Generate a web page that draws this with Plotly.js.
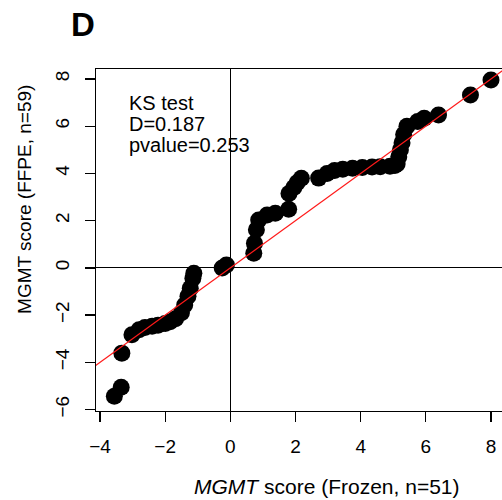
<!DOCTYPE html>
<html>
<head>
<meta charset="utf-8">
<script src="https://cdn.plot.ly/plotly-3.0.1.min.js"></script>
<style>html,body{margin:0;padding:0;background:#fff;overflow:hidden;}#chart{width:502px;height:500px;}</style>
</head>
<body>
<div id="chart"></div>
<script>
// Sorted quantiles (QQ plot): Frozen (x) vs FFPE (y)
var frozenScore = [-3.56, -3.35, -3.33, -3.02, -2.80, -2.62, -2.40, -2.22, -2.00, -1.85,
  -1.68, -1.50, -1.40, -1.30, -1.23, -1.15, -1.12, -0.25, -0.12, 0.72,
  0.74, 0.80, 0.87, 1.13, 1.38, 1.79, 1.80, 1.95, 2.05, 2.18,
  2.71, 2.97, 3.20, 3.45, 3.75, 4.05, 4.35, 4.60, 4.90, 5.05,
  5.12, 5.17, 5.22, 5.27, 5.32, 5.42, 5.75, 5.95, 6.39, 7.37, 8.00];
var ffpeScore = [-5.44, -5.05, -3.61, -2.83, -2.62, -2.52, -2.47, -2.43, -2.36, -2.28,
  -2.15, -1.90, -1.57, -1.20, -0.86, -0.44, -0.23, -0.01, 0.12, 0.62,
  1.04, 1.61, 2.03, 2.24, 2.31, 2.48, 3.15, 3.40, 3.60, 3.79,
  3.80, 4.00, 4.12, 4.18, 4.22, 4.25, 4.27, 4.28, 4.30, 4.33,
  4.40, 4.70, 5.00, 5.30, 5.65, 6.00, 6.20, 6.33, 6.47, 7.32, 7.95];
// identity reference line y = x
var refLine = [-10, 10];
var xTicks = [-4, -2, 0, 2, 4, 6, 8];
var yTicks = [-6, -4, -2, 0, 2, 4, 6, 8];
var ksLines = ["KS test", "D=0.187", "pvalue=0.253"];
var xTitle = "<i>MGMT</i> score (Frozen, n=51)";
var yTitle = "MGMT score (FFPE, n=59)";
var panelLabel = "<b>D</b>";

var FONT = "Liberation Sans, Arial, Helvetica, sans-serif";

var traces = [
  {x: frozenScore, y: ffpeScore, type: "scatter", mode: "markers",
   marker: {color: "#000000", size: 17, line: {width: 0}}, hoverinfo: "skip"},
  {x: refLine, y: refLine, type: "scatter", mode: "lines",
   line: {color: "#ff1a1a", width: 1.3}, hoverinfo: "skip"}
];

var annotations = [
  {text: panelLabel, xref: "paper", yref: "paper", x: -0.0308, y: 1.13, xanchor: "center", yanchor: "middle",
   showarrow: false, font: {family: FONT, size: 33, color: "#000"}},
  {text: xTitle, xref: "paper", yref: "paper", x: 0.569, y: -0.2204, xanchor: "center", yanchor: "middle",
   showarrow: false, font: {family: FONT, size: 21, color: "#000"}},
  {text: yTitle, xref: "paper", yref: "paper", x: -0.175, y: 0.62, xanchor: "center", yanchor: "middle",
   textangle: -90, showarrow: false, font: {family: FONT, size: 19, color: "#000"}}
];
var ksY = [0.9007, 0.838, 0.778];
for (var i = 0; i < ksLines.length; i++) {
  annotations.push({text: ksLines[i], xref: "paper", yref: "paper", x: 0.079, y: ksY[i],
    xanchor: "left", yanchor: "middle", showarrow: false, borderpad: 0,
    font: {family: FONT, size: 20, color: "#000"}});
}

var layout = {
  width: 502, height: 500,
  margin: {l: 96, r: 0, t: 69, b: 88.5, pad: 0},
  paper_bgcolor: "#ffffff", plot_bgcolor: "#ffffff",
  showlegend: false,
  font: {family: FONT, size: 19, color: "#000"},
  xaxis: {range: [-4.123, 8.338], tickvals: xTicks, ticktext: xTicks.map(function(v){return v<0?"\u2212"+(-v):""+v;}),
    showgrid: false, zeroline: true, zerolinecolor: "#000", zerolinewidth: 1.2,
    showline: true, mirror: true, linecolor: "#000", linewidth: 1.4,
    ticks: "outside", ticklen: 10, tickwidth: 1.3, tickcolor: "#000", ticklabelstandoff: 8,
    tickfont: {family: FONT, size: 19, color: "#000"}, fixedrange: true},
  yaxis: {range: [-6.06, 8.42], tickvals: yTicks, ticktext: yTicks.map(function(v){return v<0?"\u2212"+(-v):""+v;}),
    tickangle: -90,
    showgrid: false, zeroline: true, zerolinecolor: "#000", zerolinewidth: 1.2,
    showline: true, mirror: false, linecolor: "#000", linewidth: 1.4,
    ticks: "outside", ticklen: 10, tickwidth: 1.3, tickcolor: "#000", ticklabelstandoff: 8,
    tickfont: {family: FONT, size: 19, color: "#000"}, fixedrange: true},
  annotations: annotations
};

Plotly.newPlot("chart", traces, layout, {staticPlot: true, displayModeBar: false});
</script>
</body>
</html>
